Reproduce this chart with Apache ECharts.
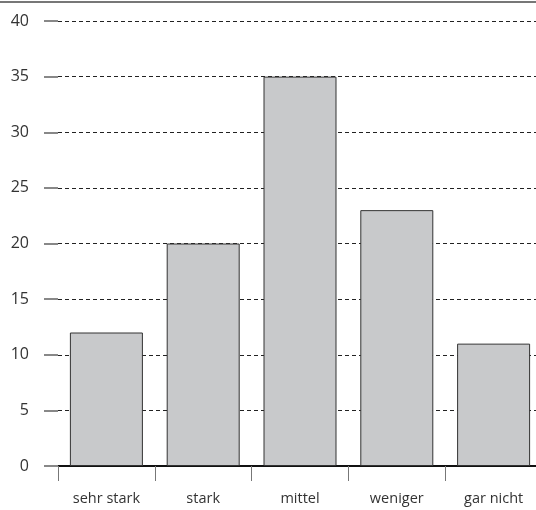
<!DOCTYPE html>
<html><head><meta charset="utf-8">
<script src="https://cdn.jsdelivr.net/npm/echarts@6/dist/echarts.min.js"></script>
<style>html,body{margin:0;padding:0;background:#fff}#c{width:536px;height:510px}</style>
</head><body><div id="c"></div>
<script>
const categories = ['sehr stark', 'stark', 'mittel', 'weniger', 'gar nicht'];
const values = [12, 20, 35, 23, 11];
const yTicks = [0, 5, 10, 15, 20, 25, 30, 35, 40];

const chart = echarts.init(document.getElementById('c'), null, {renderer: 'canvas'});
chart.setOption({
  animation: false,
  backgroundColor: '#fff',
  textStyle: {fontFamily: 'Open Sans'},
  graphic: [{
    type: 'line', shape: {x1: 0, y1: 2, x2: 536, y2: 2},
    style: {stroke: '#777', lineWidth: 2}
  }],
  grid: {left: 58, right: -6, top: 21, bottom: 44, containLabel: false, outerBoundsMode: 'none'},
  xAxis: {
    type: 'category', data: categories, boundaryGap: true,
    axisLine: {show: true, lineStyle: {color: '#111', width: 2}},
    axisTick: {show: true, length: 15, alignWithLabel: false, lineStyle: {color: '#777', width: 1}},
    axisLabel: {color: '#333', fontSize: 14.5, margin: 25, fontFamily: 'Open Sans'},
    splitLine: {show: false}
  },
  yAxis: {
    type: 'value', min: yTicks[0], max: yTicks[yTicks.length - 1], interval: yTicks[1] - yTicks[0],
    axisLine: {show: false},
    axisTick: {show: true, length: 14, lineStyle: {color: '#888', width: 2}},
    axisLabel: {color: '#333', fontSize: 16, margin: 29, fontFamily: 'Open Sans'},
    splitLine: {show: true, lineStyle: {color: '#222', width: 1, type: [4, 3]}}
  },
  series: [{
    type: 'bar', data: values, barWidth: 73,
    itemStyle: {color: '#c8c9cb', borderColor: '#333', borderWidth: 1}
  }]
});
</script></body></html>
